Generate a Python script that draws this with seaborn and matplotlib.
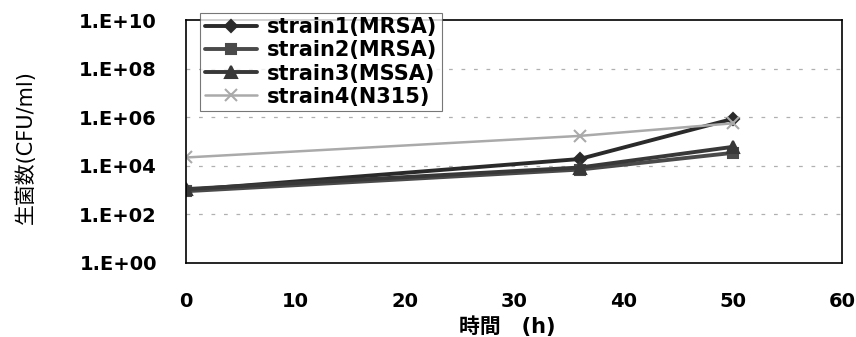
import matplotlib
matplotlib.use("Agg")
import matplotlib.pyplot as plt
import seaborn as sns
import numpy as np
import pandas as pd
from matplotlib.ticker import FixedLocator, FixedFormatter

# ---- data ----
time_h = [0, 36, 50]
strain1 = [1.0e3, 1.9e4, 8.5e5]
strain2 = [0.9e3, 7.0e3, 3.4e4]
strain3 = [1.1e3, 8.5e3, 6.0e4]
strain4 = [2.2e4, 1.7e5, 5.6e5]
series_names = ["strain1(MRSA)", "strain2(MRSA)", "strain3(MSSA)", "strain4(N315)"]
y_tick_values = [1e0, 1e2, 1e4, 1e6, 1e8, 1e10]
y_tick_labels = ["1.E+00", "1.E+02", "1.E+04", "1.E+06", "1.E+08", "1.E+10"]
x_tick_values = [0, 10, 20, 30, 40, 50, 60]
x_label = "時間　(h)"
y_label = "生菌数(CFU/ml)"

sns.set_theme(style="white")
plt.rcParams['font.family'] = ['DejaVu Sans', 'Noto Sans CJK JP']
plt.rcParams['text.color'] = 'black'
plt.rcParams['axes.labelcolor'] = 'black'

fig = plt.figure(figsize=(8.56, 3.37), dpi=100)
ax = fig.add_axes([186/856, 1-263/337, (842-186)/856, (263-20)/337])

styles = [
    dict(color="#2a2a2a", marker="D", lw=2.8, ms=6),
    dict(color="#4a4a4a", marker="s", lw=2.8, ms=7),
    dict(color="#383838", marker="^", lw=2.8, ms=8),
    dict(color="#aaaaaa", marker="x", lw=1.8, ms=9),
]
all_vals = [strain1, strain2, strain3, strain4]
for name, vals, st in zip(series_names, all_vals, styles):
    df = pd.DataFrame({"t": time_h, "v": vals})
    sns.lineplot(data=df, x="t", y="v", ax=ax, color=st["color"], marker=st["marker"],
                 lw=st["lw"], markersize=st["ms"], markeredgecolor=st["color"],
                 markerfacecolor=st["color"], markeredgewidth=1.5, label=name)

ax.set_yscale("log")
ax.set_ylim(1e0, 1e10)
ax.set_xlim(0, 60)
ax.yaxis.set_major_locator(FixedLocator(y_tick_values))
ax.yaxis.set_major_formatter(FixedFormatter(y_tick_labels))
ax.yaxis.set_minor_locator(FixedLocator([]))
ax.set_xticks(x_tick_values)
ax.set_xticklabels([str(v) for v in x_tick_values])

for yv in y_tick_values[1:-1]:
    ax.axhline(yv, color="#b0b0b0", lw=0.9, ls=(0, (3, 7)), zorder=0)

for sp in ax.spines.values():
    sp.set_color("black")
    sp.set_linewidth(1.2)

ax.tick_params(axis="both", direction="in", length=5, width=0.8, colors="black",
               labelsize=14, pad=21)
for lab in ax.get_xticklabels() + ax.get_yticklabels():
    lab.set_fontweight("bold")
    lab.set_color("black")

ax.set_xlabel(x_label, fontsize=15, fontweight="bold", color="black")
ax.set_ylabel(y_label, fontsize=15, color="black")
ax.xaxis.set_label_coords(0.489, -0.26)
ax.yaxis.set_label_coords(-0.245, 0.477)
ax.xaxis.label.set_va("center")
ax.yaxis.label.set_va("center")

leg = ax.legend(loc="upper left", bbox_to_anchor=(0.022, 1.028), frameon=True,
                fancybox=False, edgecolor="#555555", fontsize=15, handlelength=2.5,
                borderpad=0.2, labelspacing=0.15, handletextpad=0.5, borderaxespad=0)
leg.get_frame().set_linewidth(0.8)
for t in leg.get_texts():
    t.set_fontweight("bold")
    t.set_color("black")

fig.savefig("out.png", dpi=100)
